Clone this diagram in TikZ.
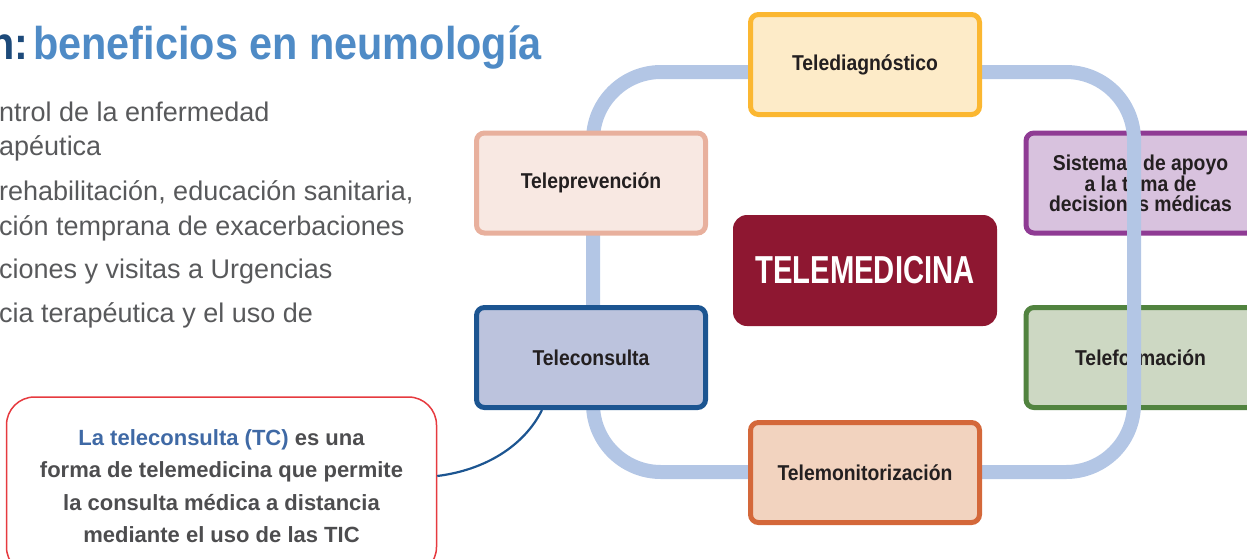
\documentclass[tikz,border=0pt]{standalone}
\usepackage{fontspec}
\setmainfont{Liberation Sans}
\newfontfamily\condfont{Liberation Sans}[FakeStretch=0.9]
\newfontfamily\narrowfont{Liberation Sans}[FakeStretch=0.75]

\definecolor{azuloscuro}{HTML}{1D4A7A}
\definecolor{azulclaro}{HTML}{4F8BC6}
\definecolor{gristexto}{HTML}{58595B}
\definecolor{lazoazul}{HTML}{B3C6E5}
\definecolor{rojotm}{HTML}{8E1731}
\definecolor{rojonota}{HTML}{E63A3F}
\definecolor{azultc}{HTML}{3F69A5}
\definecolor{grisnota}{HTML}{4D4D4F}
\definecolor{azulcons}{HTML}{1C5591}

\tikzset{
	caja/.style={draw, line width=5pt, rounded corners=8pt, minimum width=229pt,
		minimum height=100pt, inner sep=0pt, align=center, text={rgb,255:red,35;green,31;blue,32},
		font=\condfont\bfseries\fontsize{21.5}{20}\selectfont},
	texto/.style={anchor=base west, inner sep=0pt, text=gristexto,
		font=\fontsize{27}{30}\selectfont},
	lazo/.style={line width=14pt, draw=lazoazul, rounded corners=68pt},
	nota/.style={draw=rojonota, line width=1.5pt, rounded corners=28pt, minimum width=430pt,
		minimum height=178pt, align=center, text=grisnota,
		font=\bfseries\fontsize{22}{32.5}\selectfont},
	enlace/.style={draw=azulcons, line width=2.2pt}
}

\begin{document}
\begin{tikzpicture}[x=1pt, y=-1pt]
	\useasboundingbox (0, 0) rectangle (1247, 558);
	\clip (0, 0) rectangle (1247, 558);
	% Titulo
	\node[anchor=base west, inner sep=0pt, font=\condfont\bfseries\fontsize{46}{50}\selectfont]
	(titulo) at (-11, 59) {\textcolor{azuloscuro}{n:}\hspace{5pt}\textcolor{azulclaro}{beneficios en neumología}};
	% Texto izquierda
	\node[texto] (t1) at (-1, 121) {ntrol de la enfermedad};
	\node[texto] (t2) at (-1, 155) {apéutica};
	\node[texto] (t3) at (-1, 200) {rehabilitación, educación sanitaria,};
	\node[texto] (t4) at (-1, 235) {ción temprana de exacerbaciones};
	\node[texto] (t5) at (-1, 278) {ciones y visitas a Urgencias};
	\node[texto] (t6) at (-1, 322) {cia terapéutica y el uso de};

	% Cajas bajo el lazo
	\node[caja, fill={rgb,255:red,216;green,194;blue,222}, draw={rgb,255:red,143;green,59;blue,148}]
	(sist) at (1140.5, 183) {Sistemas de apoyo\\a la toma de\\decisiones médicas};
	\node[caja, fill={rgb,255:red,205;green,216;blue,195}, draw={rgb,255:red,81;green,131;blue,63}]
	(tform) at (1140.5, 357.5) {Teleformación};
	% Lazo
	\draw[lazo] (593, 72) rectangle (1134, 472);
	% Cajas sobre el lazo
	\node[caja, fill={rgb,255:red,253;green,235;blue,200}, draw={rgb,255:red,251;green,183;blue,49}]
	(tdiag) at (865, 64.5) {Telediagnóstico};
	\node[caja, fill={rgb,255:red,248;green,232;blue,226}, draw={rgb,255:red,232;green,176;blue,157}]
	(tprev) at (591, 183) {Teleprevención};
	\node[caja, fill={rgb,255:red,188;green,195;blue,221}, draw=azulcons]
	(tcons) at (591, 357.5) {Teleconsulta};
	\node[caja, fill={rgb,255:red,242;green,211;blue,191}, draw={rgb,255:red,212;green,104;blue,58}]
	(tmon) at (865, 472.5) {Telemonitorización};
	% Centro
	\node[fill=rojotm, rounded corners=14pt, minimum width=264pt, minimum height=111pt,
		text=white, font=\narrowfont\bfseries\fontsize{39}{40}\selectfont]
	(tmed) at (865, 270.5) {TELEMEDICINA};

	% Nota
	\node[nota] (nota) at (221.5, 486) {\textcolor{azultc}{La teleconsulta (TC)} es una\\forma de telemedicina que permite\\la consulta médica a distancia\\mediante el uso de las TIC};
	\draw[enlace] ([xshift=68pt]tcons.south west) .. controls +(-18, 36) and +(48, -6) .. ([yshift=10pt]nota.east);
\end{tikzpicture}
\end{document}
